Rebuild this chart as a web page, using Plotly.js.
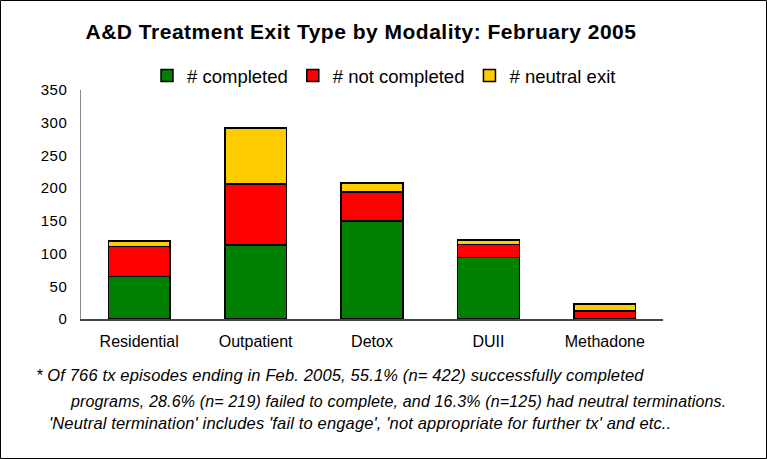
<!DOCTYPE html>
<html><head><meta charset="utf-8">
<script src="https://cdn.plot.ly/plotly-3.0.1.min.js"></script>
<style>
body{margin:0;background:#fff}#c{width:767px;height:459px}
#c .gtitle{letter-spacing:0.5px}
#c .ytick text{letter-spacing:0.6px}
#c .annotation-text{letter-spacing:0.15px}
</style>
</head><body><div id="c"></div>
<script>
const categories = ["Residential","Outpatient","Detox","DUII","Methadone"];
const completed = [65,113,150,94,0];
const notCompleted = [46,93,44,20,12];
const neutralExit = [8,86,14,7,11];
const seriesNames = ["# completed","# not completed","# neutral exit"];
const colors = ["#008000","#ff0000","#ffcc00"];
const yTicks = [0,50,100,150,200,250,300,350];
const notes = [
  "* Of 766 tx episodes ending in Feb. 2005, 55.1% (n= 422) successfully completed",
  "programs, 28.6% (n= 219) failed to complete, and 16.3% (n=125) had neutral terminations.",
  "'Neutral termination' includes 'fail to engage', 'not appropriate for further tx' and etc.."
];

const L=81,R=104,T=90,B=140,W=767,H=459;
const pw=W-L-R, ph=H-T-B;
const px = v => (v-L)/pw;
const py = v => (H-B-v)/ph;

const data=[completed,notCompleted,neutralExit].map((vals,i)=>({
  type:'bar', x:categories, y:vals, name:seriesNames[i],
  marker:{color:colors[i], line:{color:'#000', width:1.5}}
}));

const font = {family:'"Liberation Sans", Arial, sans-serif', color:'#000'};
const noteX=[36,70,49];
const noteY=[375,401,423];
const noteSize=[16.5,16,16.5];
const annotations = notes.map((t,i)=>({
  text:'<i>'+t+'</i>', xref:'paper', yref:'paper', x:px(noteX[i]-2), y:py(noteY[i]),
  xanchor:'left', yanchor:'middle', showarrow:false, align:'left',
  font:Object.assign({size:noteSize[i]},font)
}));

const layout={
  width:W,height:H,
  margin:{l:L,r:R,t:T,b:B},
  paper_bgcolor:'#fff', plot_bgcolor:'#fff',
  font:Object.assign({size:15},font),
  barmode:'stack', bargap:0.47,
  title:{text:'<b>A&D Treatment Exit Type by Modality: February 2005</b>',
    x:361/W, xanchor:'center', y:1-32/H, yanchor:'middle',
    font:Object.assign({size:21},font)},
  showlegend:true,
  legend:{orientation:'h', x:px(384), xanchor:'center', y:py(76), yanchor:'middle',
    font:Object.assign({size:18.5},font), traceorder:'normal', itemwidth:30, bgcolor:'rgba(0,0,0,0)'},
  xaxis:{showline:true, linecolor:'#444', linewidth:1.5, ticks:'', showgrid:false,
    ticklabelstandoff:7, tickfont:Object.assign({size:16},font), fixedrange:true},
  yaxis:{range:[0,350], tickvals:yTicks, showline:true, linecolor:'#888', linewidth:1.5,
    ticks:'', showgrid:false, zeroline:false, ticklabelstandoff:9,
    tickfont:Object.assign({size:15},font), fixedrange:true},
  annotations:annotations,
  shapes:[{type:'rect', xref:'paper', yref:'paper', x0:px(0.5), x1:px(W-0.5), y0:py(0.5), y1:py(H-0.5),
    line:{color:'#000', width:1}, layer:'below'}]
};
Plotly.newPlot('c',data,layout,{displayModeBar:false,staticPlot:true});
</script></body></html>
